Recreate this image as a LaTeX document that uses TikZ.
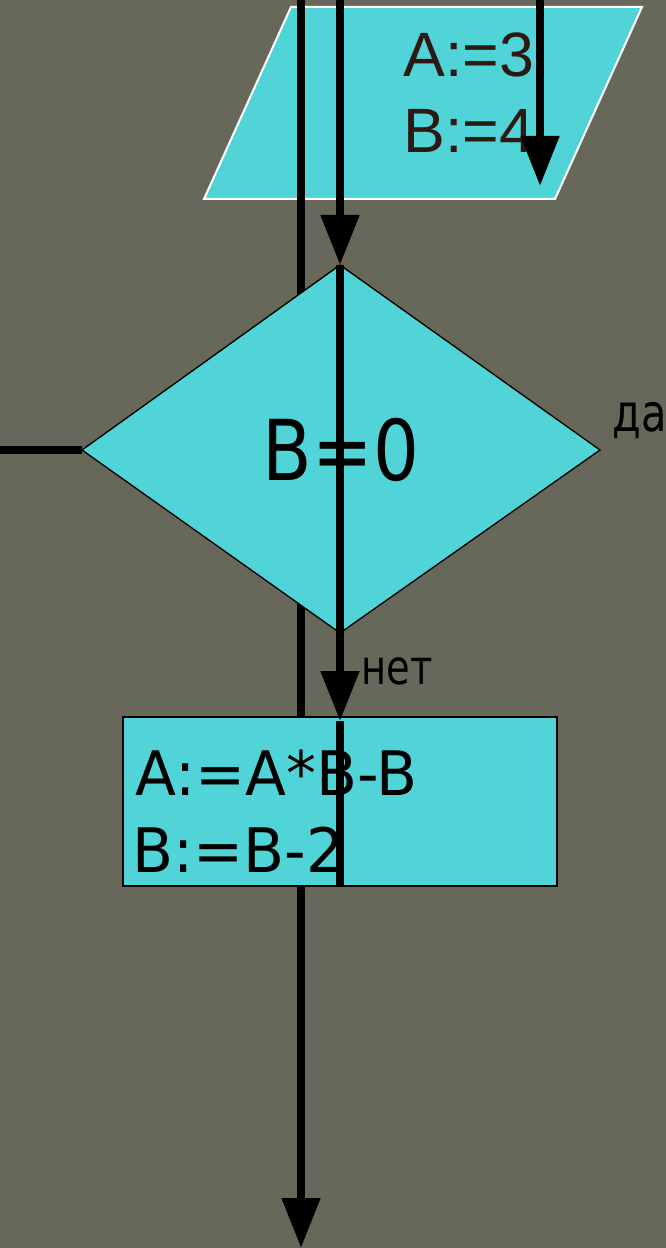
\documentclass[tikz,border=0pt]{standalone}
\usepackage{fontspec}
\setmainfont{DejaVu Sans}
\newfontfamily\arialf{Liberation Sans}
\newfontfamily\condf[FakeStretch=0.86]{DejaVu Sans}
\newfontfamily\narrowf[FakeStretch=0.8]{DejaVu Sans}
\newfontfamily\procf[FakeStretch=0.975]{DejaVu Sans}
\usetikzlibrary{arrows.meta}
\definecolor{bgc}{RGB}{103,104,90}
\definecolor{cyanf}{RGB}{80,212,216}
\definecolor{brownt}{RGB}{45,24,18}
\begin{document}
\begin{tikzpicture}[x=0.75pt,y=-0.75pt,
  flow/.style={line width=6pt, draw=black},
  tipped/.style={-{Triangle[length=37.5pt,width=27.75pt]}},
  lbl/.style={inner sep=0pt, anchor=base west},
  boxshape/.style={fill=cyanf, draw=black, line width=1pt}]
\fill[bgc] (0,0) rectangle (666,1248);
\useasboundingbox (0,0) rectangle (666,1248);
% input parallelogram
\filldraw[fill=cyanf, draw=white, line width=1.5pt] (291,7) -- (642,7) -- (555,199) -- (204,199) -- cycle;
\node[lbl, text=brownt, font=\arialf\fontsize{47pt}{56pt}\selectfont] (a3) at (403,77) {A:=3};
\node[lbl, text=brownt, font=\arialf\fontsize{47pt}{56pt}\selectfont] (b4) at (403,153) {B:=4};
% coordinates
\coordinate (l1top) at (301,-5);
\coordinate (l1bot) at (301,1248);
\coordinate (l3top) at (540,-5);
\coordinate (l3end) at (540,186);
\coordinate (l2top) at (340,-5);
\coordinate (dtop) at (340,265);
\coordinate (dleft) at (82,450);
\coordinate (dright) at (600,450);
\coordinate (dbot) at (340,633);
\coordinate (rtop) at (340,721);
\coordinate (rbot) at (340,886);
\coordinate (lfree) at (-5,450);
% line 1 and line 3
\draw[flow, tipped] (l1top) -- (l1bot);
\draw[flow, tipped] (l3top) -- (l3end);
% decision diamond
\filldraw[boxshape] (dtop) -- (dright) -- (dbot) -- (dleft) -- cycle;
\node[inner sep=0pt, anchor=base, font=\condf\fontsize{63pt}{70pt}\selectfont] (cond) at (341,480) {B=0};
% process rectangle
\filldraw[boxshape, line width=1.5pt] (123,717) rectangle (557,886);
\node[lbl, font=\procf\fontsize{46pt}{55pt}\selectfont] (p1) at (135,795) {A:=A*B-B};
\node[lbl, font=\procf\fontsize{46pt}{55pt}\selectfont] (p2) at (132,872) {B:=B-2};
% line 2
\draw[flow, tipped] (l2top) -- (dtop);
\draw[flow, tipped] (dtop) -- (rtop);
\draw[flow] (rtop) -- (rbot);
% left line
\draw[flow] (lfree) -- (dleft);
% labels
\node[lbl, font=\narrowf\fontsize{39pt}{48pt}\selectfont] (yes) at (612,431) {да};
\node[lbl, font=\narrowf\fontsize{36pt}{44pt}\selectfont] (no) at (361,684) {нет};
\end{tikzpicture}
\end{document}
